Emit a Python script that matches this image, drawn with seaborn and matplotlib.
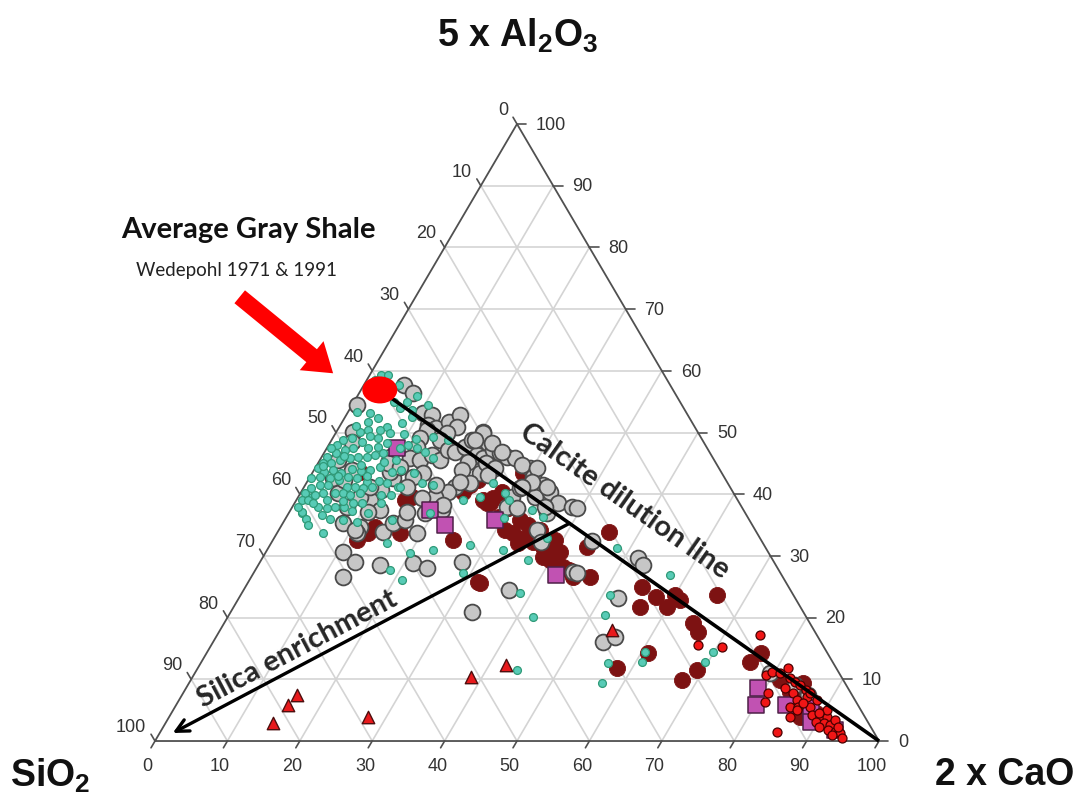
import numpy as np
import pandas as pd
import matplotlib
matplotlib.use("Agg")
import matplotlib.pyplot as plt
import seaborn as sns
from matplotlib.patches import Ellipse

# ---------------------------------------------------------------------------
# Compositions in ternary percent (2xCaO, 5xAl2O3); SiO2 is the remainder.
# ---------------------------------------------------------------------------
TEAL_CAO = [1.5, 2.6, 1.2, 4.8, 8.3, 7.3, 6.8, 8.7, 9.3, 8.3,
            10.4, 6.6, 4.6, 3.1, 1.3, 3.5, 5.9, 6.2, 4.2, 3.3,
            2.7, 4.4, 1.6, 1.1, 2.6, 3.6, 5.7, 6.9, 7.9, 10.1,
            10.9, 12.5, 13.9, 15.5, 16.1, 1.6, 0.8, 1.7, 2.8, 4.0,
            5.0, 6.3, 7.2, 8.2, 0.6, 0.4, 1.5, 2.6, 4.0, 5.2,
            6.6, 7.7, 8.9, 10.9, 0.3, 1.4, 2.9, 4.2, 5.3, 6.6,
            8.3, 13.0, 2.1, 3.2, 5.9, 7.0, 8.2, 9.4, 11.2, 12.6,
            16.0, 17.7, 2.0, 0.6, 3.1, 4.8, 5.9, 7.0, 8.2, 0.8,
            1.6, 3.5, 4.9, 5.9, 7.2, 8.0, 9.3, 10.9, 1.8, 4.8,
            8.1, 10.2, 14.8, 6.3, 16.0, 20.0, 18.6, 21.1, 22.9, 13.7,
            23.0, 25.1, 25.8, 28.2, 29.3, 27.6, 32.6, 36.8, 33.4, 35.5,
            38.4, 28.9, 30.2, 37.7, 42.2, 52.0, 51.0, 48.2, 57.7, 60.5,
            60.9, 56.3, 57.0, 69.6, 69.9, 44.3, 19.5, 13.2, 2.2, 1.8,
            2.0, 3.5, 5.5, 2.2, 5.0, 7.5, 9.5, 11.5, 0.5, 3.0,
            9.0, 10.5, 12.0, 1.0, 3.8, 6.0, 7.8, 9.8, 11.2, 0.8,
            2.6, 4.2, 6.5, 8.6, 2.9, 6.2, 3.6, 12.0, 14.0, 0.9]
TEAL_AL = [59.3, 59.3, 58.5, 57.7, 55.9, 54.9, 54.0, 53.7, 52.5, 51.5,
           54.5, 50.9, 52.4, 53.2, 53.3, 51.7, 50.4, 49.1, 50.4, 50.1,
           49.1, 48.5, 48.8, 48.0, 47.2, 47.5, 47.5, 47.7, 48.3, 47.5,
           48.0, 47.5, 46.8, 45.9, 48.8, 46.7, 46.0, 45.1, 45.5, 45.9,
           46.0, 46.0, 46.4, 46.7, 45.1, 44.2, 43.6, 44.0, 43.5, 44.1,
           43.7, 44.0, 44.4, 43.6, 42.6, 42.8, 42.6, 42.3, 42.8, 42.6,
           42.0, 41.2, 41.5, 41.5, 41.2, 41.2, 41.0, 41.2, 39.9, 39.9,
           41.8, 41.5, 39.5, 40.2, 40.2, 40.2, 40.2, 39.9, 40.2, 39.1,
           39.1, 37.9, 37.8, 37.9, 37.9, 38.6, 38.6, 37.0, 37.0, 36.6,
           35.8, 35.5, 35.8, 33.7, 32.1, 30.5, 27.7, 26.1, 31.0, 49.3,
           39.1, 39.5, 41.8, 40.2, 39.1, 31.8, 31.0, 29.3, 37.4, 36.3,
           24.0, 27.2, 36.1, 32.9, 20.1, 20.4, 23.7, 31.3, 26.9, 14.4,
           12.8, 12.6, 9.4, 12.8, 14.4, 11.5, 37.0, 41.2, 39.9, 37.1,
           56.5, 55.8, 55.0, 51.0, 49.5, 50.0, 49.8, 49.0, 47.5, 46.2,
           45.2, 45.5, 44.0, 41.0, 43.0, 44.8, 43.0, 42.2, 41.8, 38.0,
           38.5, 39.0, 38.9, 37.2, 36.0, 36.0, 35.0, 38.5, 43.5, 44.5]

GRAY_CAO = [5.5, 0.7, 10.4, 11.9, 12.1, 13.5, 14.7, 15.7, 16.3, 15.4,
            15.0, 12.4, 12.1, 12.4, 12.3, 13.8, 15.1, 16.6, 16.9, 18.0,
            19.0, 19.4, 20.3, 21.9, 21.3, 20.6, 20.4, 22.3, 23.1, 24.3,
            25.6, 26.8, 24.3, 23.2, 22.6, 20.8, 20.3, 18.9, 18.0, 15.3,
            14.2, 14.2, 11.6, 10.7, 9.5, 9.7, 11.6, 10.8, 10.2, 8.5,
            12.4, 10.8, 11.0, 11.1, 8.3, 7.5, 5.2, 3.3, 4.9, 5.2,
            2.3, 3.0, 9.1, 14.6, 15.2, 16.6, 19.4, 18.8, 20.9, 17.2,
            16.2, 10.7, 13.1, 16.8, 21.2, 23.6, 27.9, 29.6, 29.9, 29.7,
            30.8, 32.9, 34.4, 32.7, 35.6, 36.4, 38.7, 44.0, 36.6, 33.4,
            20.3, 19.8, 22.4, 24.5, 28.4, 23.1, 24.9, 24.4, 30.7, 31.1,
            33.5, 30.1, 29.6, 31.1, 34.9, 39.4, 35.7, 37.1, 44.2, 44.7,
            51.8, 53.1, 52.3, 53.9, 55.1, 79.4, 83.9, 86.5, 7.4, 2.5,
            12.7, 10.5, 20.7, 21.1]
GRAY_AL = [57.7, 54.5, 53.2, 52.8, 51.2, 50.7, 51.7, 52.8, 50.9, 49.9,
           48.8, 50.4, 49.1, 47.7, 45.9, 45.5, 46.4, 45.5, 47.2, 46.8,
           47.7, 48.8, 50.1, 48.3, 46.4, 45.2, 43.9, 45.9, 47.2, 46.7,
           46.0, 45.9, 44.4, 43.4, 41.8, 41.2, 40.4, 39.5, 41.5, 43.4,
           42.8, 41.2, 42.6, 43.6, 46.0, 45.1, 44.4, 40.7, 39.1, 39.5,
           37.4, 37.1, 34.7, 33.7, 35.3, 37.9, 40.2, 42.6, 42.3, 43.9,
           50.1, 48.5, 41.2, 33.9, 35.3, 35.8, 33.7, 37.0, 37.4, 39.4,
           37.1, 30.6, 29.0, 28.5, 28.8, 28.0, 29.0, 39.5, 41.0, 44.2,
           42.8, 41.5, 40.4, 39.5, 37.0, 38.6, 37.9, 27.4, 24.5, 20.9,
           49.9, 48.8, 48.3, 46.8, 44.7, 45.1, 44.2, 43.1, 44.2, 42.0,
           41.2, 41.2, 37.9, 37.8, 37.9, 37.8, 34.2, 32.3, 32.4, 27.2,
           29.7, 28.5, 23.2, 16.0, 16.9, 11.0, 9.1, 7.5, 56.4, 45.5,
           26.6, 34.2, 38.2, 42.0]

MAROON_CAO = [22.8, 22.3, 15.7, 15.0, 11.6, 12.5, 13.1, 17.0, 24.9, 31.7,
              26.6, 27.0, 29.1, 32.6, 34.7, 36.1, 37.9, 39.4, 40.6, 42.3,
              44.4, 23.4, 27.7, 27.0, 29.9, 32.5, 34.0, 34.1, 38.7, 39.9,
              43.4, 46.8, 32.1, 45.7, 44.0, 54.8, 57.6, 59.8, 60.0, 61.1,
              56.1, 65.8, 64.7, 66.2, 60.9, 57.9, 67.9, 69.1, 75.8, 76.5,
              81.4, 82.6, 83.7, 85.4, 86.7, 87.2, 87.2, 89.1, 90.6, 84.8,
              25.7, 6.5, 29.4, 31.2, 36.1, 38.9]
MAROON_AL = [41.5, 40.4, 39.5, 39.1, 32.6, 33.7, 34.7, 33.7, 32.6, 25.8,
             38.6, 39.4, 43.4, 33.7, 32.9, 32.3, 31.4, 30.5, 30.6, 28.2,
             26.6, 42.3, 40.4, 38.6, 37.8, 35.8, 35.0, 32.1, 29.8, 29.3,
             27.7, 26.6, 25.6, 33.9, 31.4, 25.0, 23.3, 21.7, 23.7, 22.9,
             21.7, 23.7, 19.1, 17.7, 14.3, 11.8, 9.9, 11.5, 12.8, 14.3,
             9.9, 9.4, 7.9, 6.6, 5.5, 3.9, 6.6, 4.5, 3.4, 9.4,
             39.1, 43.6, 36.3, 34.2, 34.2, 32.6]

SQUARE_CAO = [9.7, 19.3, 22.6, 29.1, 42.0, 79.0, 80.1, 84.3, 88.0, 89.0, 93.0]
SQUARE_AL = [47.5, 37.4, 35.0, 35.8, 26.9, 8.6, 5.8, 5.8, 5.3, 3.1, 1.8]

TRIANGLE_CAO = [14.8, 15.5, 15.9, 27.4, 38.4, 42.3, 54.1]
TRIANGLE_AL = [2.9, 5.8, 7.5, 3.9, 10.4, 12.3, 18.0]

RED_CAO = [75.0, 67.2, 70.7, 79.1, 79.6, 80.8, 81.5, 82.6, 83.6, 84.6,
           85.7, 84.2, 86.5, 88.1, 85.4, 84.9, 86.0, 87.7, 88.6, 89.9,
           90.9, 89.7, 91.0, 91.9, 90.5, 92.1, 93.2, 94.0, 93.0, 94.7,
           81.1, 85.2, 80.8, 82.7, 90.3, 92.2, 93.2, 86.6, 89.5, 86.2,
           86.4, 85.8]
RED_AL = [17.2, 15.6, 15.2, 10.7, 11.2, 11.0, 11.8, 10.2, 9.6, 9.1,
          8.3, 7.8, 7.1, 6.6, 6.6, 5.5, 5.5, 5.5, 4.2, 3.9,
          3.9, 3.1, 2.9, 2.6, 2.3, 1.8, 1.5, 1.3, 1.0, 0.5,
          6.3, 1.5, 7.8, 8.6, 5.0, 3.4, 2.3, 7.8, 4.5, 5.0,
          6.2, 3.9]

# Average gray shale (Wedepohl 1971 & 1991)
SHALE_CAO = 2.6
SHALE_AL = 56.9
# end of the silica-enrichment arrow
SILICA_END_CAO = 1.8
SILICA_END_AL = 1.3
SILICA_START_FRAC = 0.38   # position along the calcite dilution line

TICKS = list(range(0, 101, 10))
TITLE_TOP = r"5 x Al$_\mathbf{2}$O$_\mathbf{3}$"
TITLE_LEFT = r"SiO$_\mathbf{2}$"
TITLE_RIGHT = "2 x CaO"


def tern(cao, al):
    """Ternary (CaO, Al2O3) percent -> plotting plane (x, y)."""
    c = np.asarray(cao, dtype=float)
    a = np.asarray(al, dtype=float)
    return c + a / 2.0, a


def frame(cao, al):
    x, y = tern(cao, al)
    return pd.DataFrame({"x": x, "y": y})


sns.set_style("white")
plt.rcParams["font.family"] = ["Liberation Sans", "DejaVu Sans"]
plt.rcParams["mathtext.fontset"] = "custom"
plt.rcParams["mathtext.rm"] = "Liberation Sans"
plt.rcParams["mathtext.bf"] = "Liberation Sans:bold"

fig = plt.figure(figsize=(10.81, 7.95), dpi=100)
ax = fig.add_axes([0, 0, 1, 1])
ax.set_xlim(-21.41, 127.9)
ax.set_ylim(-8.75, 120.1)
ax.axis("off")

EDGE = "#505050"
GRID = "#d4d4d4"

# triangular grid
for k in range(10, 100, 10):
    ax.plot([k / 2, 100 - k / 2], [k, k], color=GRID, lw=1.2, zorder=1)
    ax.plot([k, k + (100 - k) / 2], [0, 100 - k], color=GRID, lw=1.2, zorder=1)
    ax.plot([100 - k, (100 - k) / 2], [0, 100 - k], color=GRID, lw=1.2, zorder=1)

# outline
ax.plot([0, 100, 50, 0], [0, 0, 100, 0], color=EDGE, lw=1.3, zorder=2,
        solid_joinstyle="miter")

# ticks and tick labels
tick_kw = dict(color=EDGE, lw=1.2, zorder=2)
lab_kw = dict(fontsize=13, color="#333333", zorder=3)
for k in TICKS:
    # bottom: 2xCaO
    ax.plot([k, k - 0.55], [0, -1.1], **tick_kw)
    ax.text(k - 1.0, -4.2, f"{k}", ha="center", va="center", **lab_kw)
    # left: SiO2
    lx, ly = (100 - k) / 2, 100 - k
    ax.plot([lx, lx - 0.55], [ly, ly + 1.1], **tick_kw)
    ax.text(lx - 1.2, ly + 2.2, f"{k}", ha="right", va="center", **lab_kw)
    # right: 5xAl2O3
    rx, ry = 100 - k / 2, k
    ax.plot([rx, rx + 1.3], [ry, ry], **tick_kw)
    ax.text(rx + 2.6, ry - 0.2, f"{k}", ha="left", va="center", **lab_kw)

# corner titles
title_kw = dict(fontsize=27, fontweight="bold", color="#111111")
ax.text(50.1, 112.6, TITLE_TOP, ha="center", va="baseline", **title_kw)
ax.text(-20.0, -7.4, TITLE_LEFT, ha="left", va="baseline", **title_kw)
ax.text(107.7, -7.1, TITLE_RIGHT, ha="left", va="baseline", **title_kw)

# data series
sns.scatterplot(data=frame(MAROON_CAO, MAROON_AL), x="x", y="y", ax=ax,
                s=135, color="#7d1212", edgecolor="#7d1212", linewidth=0.6,
                zorder=4, legend=False)
sns.scatterplot(data=frame(GRAY_CAO, GRAY_AL), x="x", y="y", ax=ax,
                s=130, color="#c6c6c6", edgecolor="#4a4a4a", linewidth=1.3,
                zorder=5, legend=False)
sns.scatterplot(data=frame(SQUARE_CAO, SQUARE_AL), x="x", y="y", ax=ax,
                marker="s", s=125, color="#c152b2", edgecolor="#4e2048",
                linewidth=1.1, zorder=6, legend=False)
sns.scatterplot(data=frame(TEAL_CAO, TEAL_AL), x="x", y="y", ax=ax,
                s=32, color="#58cbb6", edgecolor="#2f9a78", linewidth=0.9,
                zorder=7, legend=False)
sns.scatterplot(data=frame(TRIANGLE_CAO, TRIANGLE_AL), x="x", y="y", ax=ax,
                marker="^", s=80, color="#e8191c", edgecolor="#4d0e0e",
                linewidth=1.0, zorder=8, legend=False)
sns.scatterplot(data=frame(RED_CAO, RED_AL), x="x", y="y", ax=ax,
                s=42, color="#f01616", edgecolor="#4a0000",
                linewidth=0.9, zorder=9, legend=False)

# calcite dilution line: shale -> CaO apex
sx, sy = tern(SHALE_CAO, SHALE_AL)
ax.plot([sx, 100], [sy, 0], color="black", lw=2.6, zorder=10,
        solid_capstyle="butt")

# silica enrichment arrow
t = SILICA_START_FRAC
start_cao = SHALE_CAO + t * (100 - SHALE_CAO)
start_al = SHALE_AL * (1 - t)
x0, y0 = tern(start_cao, start_al)
x1, y1 = tern(SILICA_END_CAO, SILICA_END_AL)
ax.annotate("", xy=(x1, y1), xytext=(x0, y0),
            arrowprops=dict(arrowstyle="->,head_length=0.9,head_width=0.45",
                            lw=2.4, color="black", shrinkA=0, shrinkB=0),
            zorder=10)

# shale marker
ax.add_patch(Ellipse((float(sx), float(sy)), width=35 / 7.24, height=27 / 6.17,
                     facecolor="#ff0000", edgecolor="none", zorder=11))


def angle_of(p, q):
    a = ax.transData.transform(p)
    b = ax.transData.transform(q)
    return np.degrees(np.arctan2(b[1] - a[1], b[0] - a[0]))


note_font = ["Lato", "DejaVu Sans"]
ang_calcite = angle_of((sx, sy), (100, 0))
ax.text(64.9, 38.9, "Calcite dilution line", family=note_font,
        fontsize=21, fontweight="bold", rotation=ang_calcite,
        rotation_mode="anchor", ha="center", va="center", zorder=12)
ang_silica = angle_of((x1, y1), (x0, y0))
ax.text(19.6, 14.9, "Silica enrichment", family=note_font,
        fontsize=21, fontweight="bold", rotation=ang_silica,
        rotation_mode="anchor", ha="center", va="center", zorder=12)

ax.text(12.85, 82.8, "Average Gray Shale", family=note_font, fontsize=21,
        fontweight="bold", ha="center", va="center", color="#111111")
ax.text(11.3, 76.3, "Wedepohl 1971 & 1991", family=note_font, fontsize=13.5,
        ha="center", va="center", color="#222222")

# pointer to the shale composition
ax.annotate("", xy=(24.6, 59.6), xytext=(11.7, 72.0),
            arrowprops=dict(arrowstyle="simple,head_length=20,head_width=27,tail_width=12",
                            mutation_scale=1, color="#ff0000", lw=0,
                            shrinkA=0, shrinkB=0), zorder=11)

fig.savefig("out.png", dpi=100)
